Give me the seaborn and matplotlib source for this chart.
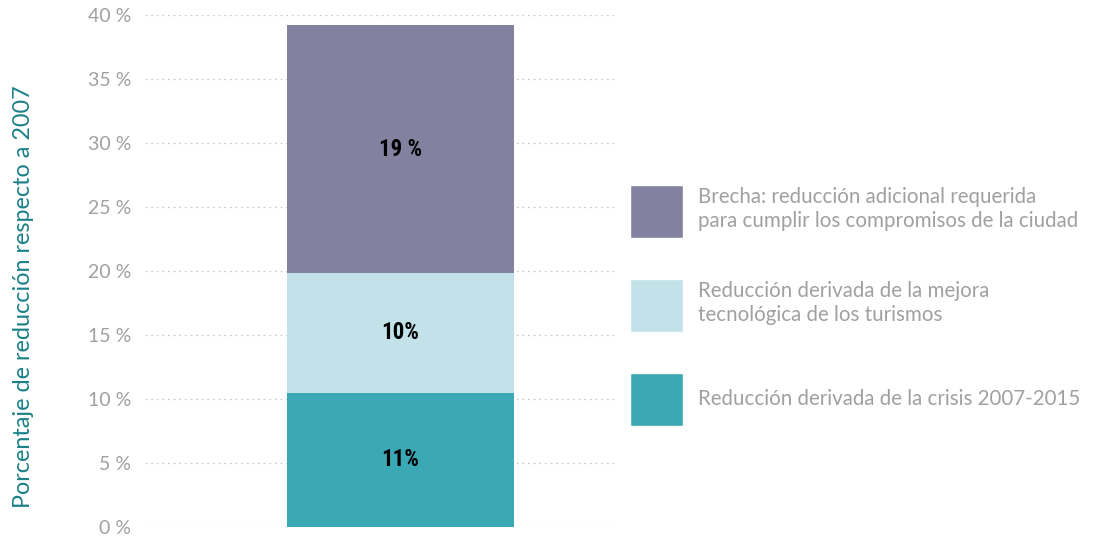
import matplotlib
matplotlib.use("Agg")
import matplotlib.pyplot as plt
import seaborn as sns
import pandas as pd
from matplotlib.patches import Patch

# datos (de abajo hacia arriba)
segmentos = ["Reducción derivada de la crisis 2007-2015",
             "Reducción derivada de la mejora\ntecnológica de los turismos",
             "Brecha: reducción adicional requerida\npara cumplir los compromisos de la ciudad"]
valores = [10.5, 9.35, 19.35]
etiquetas = ["11%", "10%", "19 %"]
colores = ["#3BA8B6", "#C2E1E8", "#8282A0"]
yticks = [0, 5, 10, 15, 20, 25, 30, 35, 40]

sns.set_style("white")
plt.rcParams["font.family"] = ["Lato", "DejaVu Sans"]

fig = plt.figure(figsize=(11.14, 5.42), dpi=100)
ax = fig.add_axes([0.130, 0.0277, 0.422, 0.9446])

df = pd.DataFrame({"grupo": [""] * 3, "segmento": segmentos, "valor": valores})
base = 0
for i, row in df.iterrows():
    sns.barplot(x=[row["grupo"]], y=[row["valor"]], bottom=base, color=colores[i],
                width=0.8, saturation=1, ax=ax, zorder=3, linewidth=0)
    ax.text(0, base + row["valor"] / 2, etiquetas[i], ha="center", va="center",
            fontsize=16.5, fontweight="heavy", family=["Roboto Condensed", "DejaVu Sans"],
            color="black", zorder=4)
    base += row["valor"]

ax.set_ylim(0, 40)
ax.set_xlim(-0.900, 0.756)
ax.set_yticks(yticks)
ax.set_yticklabels([f"{t} %" for t in yticks], color="#A0A0A0", fontsize=14)
ax.set_xticks([])
ax.tick_params(axis="y", length=0, pad=10)
for s in ax.spines.values():
    s.set_visible(False)
ax.yaxis.grid(True, linestyle=(0, (1.5, 3)), color="#CCCCCC", linewidth=0.9, zorder=0)
ax.set_ylabel("Porcentaje de reducción respecto a 2007", color="#1A8088", fontsize=16.8)
ax.yaxis.set_label_coords(-0.235, 0.45)
ax.set_xlabel("")

handles = [Patch(facecolor=colores[i], label=segmentos[i]) for i in range(3)][::-1]
leg = fig.legend(handles=handles, loc="upper left", bbox_to_anchor=(0.5655, 0.6587),
                 frameon=False, fontsize=14.8, handlelength=2.58, handleheight=3.59,
                 handletextpad=0.73, labelspacing=2.0, borderpad=0, borderaxespad=0)
for t in leg.get_texts():
    t.set_color("#A0A0A0")
    t.set_linespacing(1.25)

fig.savefig("out.png", dpi=100)
